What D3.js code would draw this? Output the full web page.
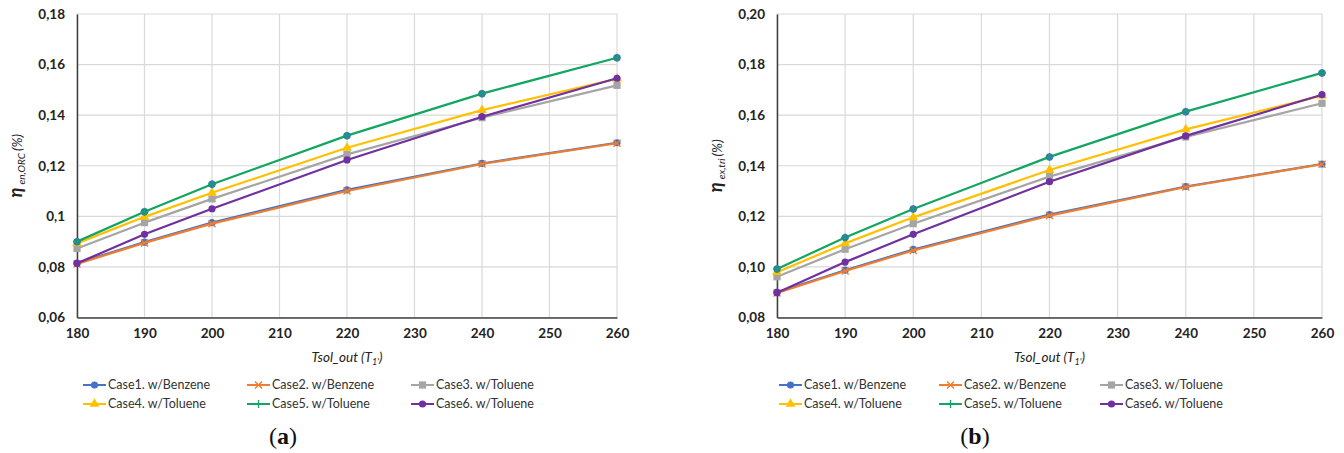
<!DOCTYPE html>
<html><head><meta charset="utf-8">
<script src="https://cdn.jsdelivr.net/npm/d3@7"></script>
<style>
html,body{margin:0;padding:0;background:#fff;}
svg{display:block;}
</style></head>
<body>
<svg id="c" width="1344" height="453"></svg>
<script>
// ---- data ----
const temps = [180, 190, 200, 220, 240, 260];
const xTicks = [180, 190, 200, 210, 220, 230, 240, 250, 260];
const caseNames = ["Case1. w/Benzene", "Case2. w/Benzene", "Case3. w/Toluene", "Case4. w/Toluene", "Case5. w/Toluene", "Case6. w/Toluene"];
const caseColors = ["#4472C4", "#ED7D31", "#A5A5A5", "#FFC000", "#12A660", "#7030A0"];
const caseMarkers = ["circle", "cross", "square", "triangle", "plus", "circle"];

// (a) energy efficiency of ORC
const enCase1 = [0.0815, 0.0898, 0.0975, 0.1105, 0.1209, 0.1291];
const enCase2 = [0.0812, 0.0895, 0.0971, 0.1100, 0.1207, 0.1289];
const enCase3 = [0.0873, 0.0975, 0.1069, 0.1245, 0.1390, 0.1518];
const enCase4 = [0.0893, 0.0998, 0.1093, 0.1271, 0.1420, 0.1544];
const enCase5 = [0.0900, 0.1018, 0.1127, 0.1319, 0.1485, 0.1627];
const enCase6 = [0.0814, 0.0929, 0.1030, 0.1223, 0.1394, 0.1546];
const enTicks = [0.06, 0.08, 0.10, 0.12, 0.14, 0.16, 0.18];
const enTickLabels = ["0,06", "0,08", "0,1", "0,12", "0,14", "0,16", "0,18"];

// (b) exergy efficiency of trigeneration
const exCase1 = [0.0900, 0.0987, 0.1069, 0.1207, 0.1318, 0.1407];
const exCase2 = [0.0897, 0.0984, 0.1065, 0.1203, 0.1316, 0.1406];
const exCase3 = [0.0961, 0.1070, 0.1171, 0.1357, 0.1514, 0.1647];
const exCase4 = [0.0979, 0.1093, 0.1196, 0.1383, 0.1544, 0.1677];
const exCase5 = [0.0992, 0.1116, 0.1229, 0.1435, 0.1614, 0.1767];
const exCase6 = [0.0898, 0.1019, 0.1129, 0.1337, 0.1518, 0.1681];
const exTicks = [0.08, 0.10, 0.12, 0.14, 0.16, 0.18, 0.20];
const exTickLabels = ["0,08", "0,10", "0,12", "0,14", "0,16", "0,18", "0,20"];

const svg = d3.select("#c");
const SANS = "Lato, 'Open Sans', sans-serif";

function drawMarker(g, type, color, x, y) {
  if (type === "circle") {
    g.append("circle").attr("cx", x).attr("cy", y).attr("r", 3.6).attr("fill", color);
  } else if (type === "square") {
    g.append("rect").attr("x", x - 3.6).attr("y", y - 3.6).attr("width", 7.2).attr("height", 7.2).attr("fill", color);
  } else if (type === "triangle") {
    g.append("path").attr("d", d3.symbol(d3.symbolTriangle, 42)()).attr("transform", `translate(${x},${y})`).attr("fill", color);
  } else if (type === "cross") {
    g.append("path").attr("d", `M${x-3.5},${y-3.5}L${x+3.5},${y+3.5}M${x-3.5},${y+3.5}L${x+3.5},${y-3.5}`).attr("stroke", color).attr("stroke-width", 1.4);
  } else if (type === "plus") {
    g.append("circle").attr("cx", x).attr("cy", y).attr("r", 3.7).attr("fill", "#3579ae");
    g.append("path").attr("d", `M${x-4},${y}L${x+4},${y}M${x},${y-4}L${x},${y+4}`).attr("stroke", color).attr("stroke-width", 1.2);
  }
}

function drawChart(o) {
  const g = svg.append("g");
  const x = d3.scaleLinear().domain([180, 260]).range([o.left, o.right]);
  const y = d3.scaleLinear().domain([o.yTicks[0], o.yTicks[o.yTicks.length - 1]]).range([o.bottom, o.top]);

  // gridlines
  g.append("g").selectAll("line").data(o.yTicks).join("line")
    .attr("x1", o.left).attr("x2", o.right).attr("y1", d => y(d)).attr("y2", d => y(d))
    .attr("stroke", "#d9d9d9").attr("stroke-width", 1.2);
  g.append("g").selectAll("line").data(xTicks).join("line")
    .attr("x1", d => x(d)).attr("x2", d => x(d)).attr("y1", o.top).attr("y2", o.bottom)
    .attr("stroke", "#d9d9d9").attr("stroke-width", 1.2);

  // axes
  const yAxis = d3.axisLeft(y).tickValues(o.yTicks).tickSize(0).tickPadding(12)
    .tickFormat((d, i) => o.yLabels[i]);
  const ya = g.append("g").attr("transform", `translate(${o.left},0)`).call(yAxis);
  ya.select(".domain").attr("stroke", "#404040").attr("stroke-width", 1.5);
  ya.selectAll("text").style("font-family", SANS).attr("font-weight", "bold").attr("font-size", 13.5).attr("fill", "#222");

  const xAxis = d3.axisBottom(x).tickValues(xTicks).tickSize(0).tickPadding(11).tickFormat(d3.format("d"));
  const xa = g.append("g").attr("transform", `translate(0,${o.bottom})`).call(xAxis);
  xa.select(".domain").attr("stroke", "#404040").attr("stroke-width", 1.5);
  xa.selectAll("text").style("font-family", SANS).attr("font-weight", "bold").attr("font-size", 13.5).attr("fill", "#222");

  // series
  const line = d3.line().x((d, i) => x(temps[i])).y(d => y(d));
  o.series.forEach((vals, si) => {
    g.append("path").datum(vals).attr("d", line).attr("fill", "none")
      .attr("stroke", caseColors[si]).attr("stroke-width", 2.2).attr("stroke-linejoin", "round");
    const mg = g.append("g");
    vals.forEach((v, i) => drawMarker(mg, caseMarkers[si], caseColors[si], x(temps[i]), y(v)));
  });

  // x title
  const xt = g.append("text").attr("x", (o.left + o.right) / 2).attr("y", o.bottom + 44)
    .attr("text-anchor", "middle").attr("font-style", "italic").attr("font-size", 13.5).attr("fill", "#222")
    .style("font-family", SANS);
  xt.append("tspan").text("Tsol_out (T");
  xt.append("tspan").attr("font-size", 9).attr("dy", 3).text("1'");
  xt.append("tspan").attr("dy", -3).text(")");

  // y title
  const yt = g.append("text").attr("transform", `translate(${o.ytx},${(o.top + o.bottom) / 2}) rotate(-90)`)
    .attr("text-anchor", "middle").attr("fill", "#222").style("font-family", SANS);
  yt.append("tspan").attr("font-size", 18).attr("font-weight", "bold").attr("font-style", "italic").text("η");
  yt.append("tspan").attr("font-size", 10).attr("font-style", "italic").attr("dy", 3).attr("dx", 3).text(o.ySub);
  yt.append("tspan").attr("font-size", 13.5).attr("font-style", "italic").attr("dy", -3).attr("dx", 2).text("(%)");

  // legend
  const cols = o.legendCols;
  const rows = [385, 404];
  caseNames.forEach((name, i) => {
    const lx = cols[i % 3], ly = rows[Math.floor(i / 3)];
    const lg = g.append("g");
    lg.append("line").attr("x1", lx).attr("x2", lx + 23).attr("y1", ly).attr("y2", ly)
      .attr("stroke", caseColors[i]).attr("stroke-width", 2);
    if (caseMarkers[i] === "plus") {
      lg.append("path").attr("d", `M${lx+7.5},${ly}L${lx+15.5},${ly}M${lx+11.5},${ly-4}L${lx+11.5},${ly+4}`)
        .attr("stroke", caseColors[i]).attr("stroke-width", 1.3);
    } else {
      drawMarker(lg, caseMarkers[i], caseColors[i], lx + 11.5, ly);
    }
    lg.append("text").attr("x", lx + 25).attr("y", ly).attr("dy", "0.35em")
      .attr("font-size", 12.5).attr("fill", "#333").style("font-family", SANS).text(name);
  });

  // panel label
  const pl = svg.append("text").attr("x", o.labelX).attr("y", 444).attr("text-anchor", "middle")
    .style("font-family", "'Liberation Serif', 'DejaVu Serif', serif").attr("font-size", 24).attr("fill", "#111");
  pl.append("tspan").text("(");
  pl.append("tspan").attr("font-weight", "bold").text(o.label);
  pl.append("tspan").text(")");
}

drawChart({
  left: 77, right: 617, top: 14, bottom: 317.5,
  yTicks: enTicks, yLabels: enTickLabels, ySub: "en,ORC",
  series: [enCase1, enCase2, enCase3, enCase4, enCase5, enCase6],
  ytx: 22, legendCols: [83, 247, 411], label: "a", labelX: 283
});
drawChart({
  left: 777, right: 1322, top: 14, bottom: 317.5,
  yTicks: exTicks, yLabels: exTickLabels, ySub: "ex,tri",
  series: [exCase1, exCase2, exCase3, exCase4, exCase5, exCase6],
  ytx: 722, legendCols: [779, 939, 1100], label: "b", labelX: 975
});
</script>
</body></html>
